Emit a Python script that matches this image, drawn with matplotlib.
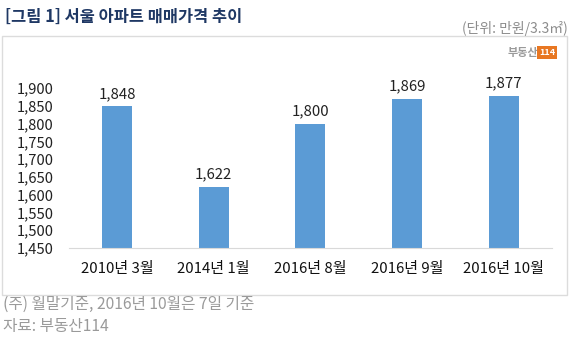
import matplotlib
matplotlib.use('Agg')
import matplotlib.pyplot as plt
from matplotlib.patches import Rectangle

plt.rcParams['font.family'] = ['Noto Sans CJK KR', 'DejaVu Sans']

categories = ['2010년 3월', '2014년 1월', '2016년 8월', '2016년 9월', '2016년 10월']
prices = [1848, 1622, 1800, 1869, 1877]
yticks = [1450, 1500, 1550, 1600, 1650, 1700, 1750, 1800, 1850, 1900]

title = '[그림 1] 서울 아파트 매매가격 추이'
unit = '(단위: 만원/3.3㎡)'
note = '(주) 월말기준, 2016년 10월은 7일 기준'
source = '자료: 부동산114'

W, H = 569, 341
fig = plt.figure(figsize=(W / 100, H / 100), dpi=100)
fig.patch.set_facecolor('white')

# frame around the chart
fig.patches.append(Rectangle((2 / W, 1 - 295 / H), 565 / W, 259 / H,
                             transform=fig.transFigure, fill=False,
                             edgecolor='#dcdcdc', lw=1.0))

ax = fig.add_axes([68.6 / W, 1 - 248 / H, (552 - 68.6) / W, 160 / H])
x = list(range(len(categories)))
ax.bar(x, prices, width=0.31, color='#5b9bd5', zorder=2)
ax.set_xlim(-0.5, len(categories) - 0.5)
ax.set_ylim(1450, 1900)
ax.set_yticks(yticks)
ax.set_yticklabels([f'{v:,}' for v in yticks], fontsize=10.6, color='#222222')
ax.set_xticks(x)
ax.set_xticklabels(categories, fontsize=10.8, color='#111111')
ax.tick_params(axis='both', length=0)
ax.tick_params(axis='x', pad=10)
ax.tick_params(axis='y', pad=11)
for s in ['top', 'right', 'left']:
    ax.spines[s].set_visible(False)
ax.spines['bottom'].set_color('#d9d9d9')

for xi, v in zip(x, prices):
    ax.annotate(f'{v:,}', (xi, v), xytext=(0, 4), textcoords='offset points',
                ha='center', va='bottom', fontsize=10.8, color='#222222')

fig.text(5 / W, 1 - 17 / H, title, fontsize=11.8, fontweight='bold',
         color='#1f3864', va='center', ha='left')
fig.text(568 / W, 1 - 28 / H, unit, fontsize=10, color='#8c8c8c',
         va='center', ha='right')

# logo
fig.text(538 / W, 1 - 52.5 / H, '부동산', fontsize=8, color='#9a9a9a',
         fontweight='bold', va='center', ha='right')
fig.text(547 / W, 1 - 52.5 / H, '114', fontsize=6.5, color='white',
         fontweight='bold', va='center', ha='center',
         bbox=dict(boxstyle='square,pad=0.2', fc='#e87722', ec='none'))

fig.text(3 / W, 1 - 304.5 / H, note, fontsize=11.3, color='#9a9a9a',
         va='center', ha='left')
fig.text(3 / W, 1 - 327 / H, source, fontsize=11.3, color='#9a9a9a',
         va='center', ha='left')

fig.savefig('out.png', dpi=100)
